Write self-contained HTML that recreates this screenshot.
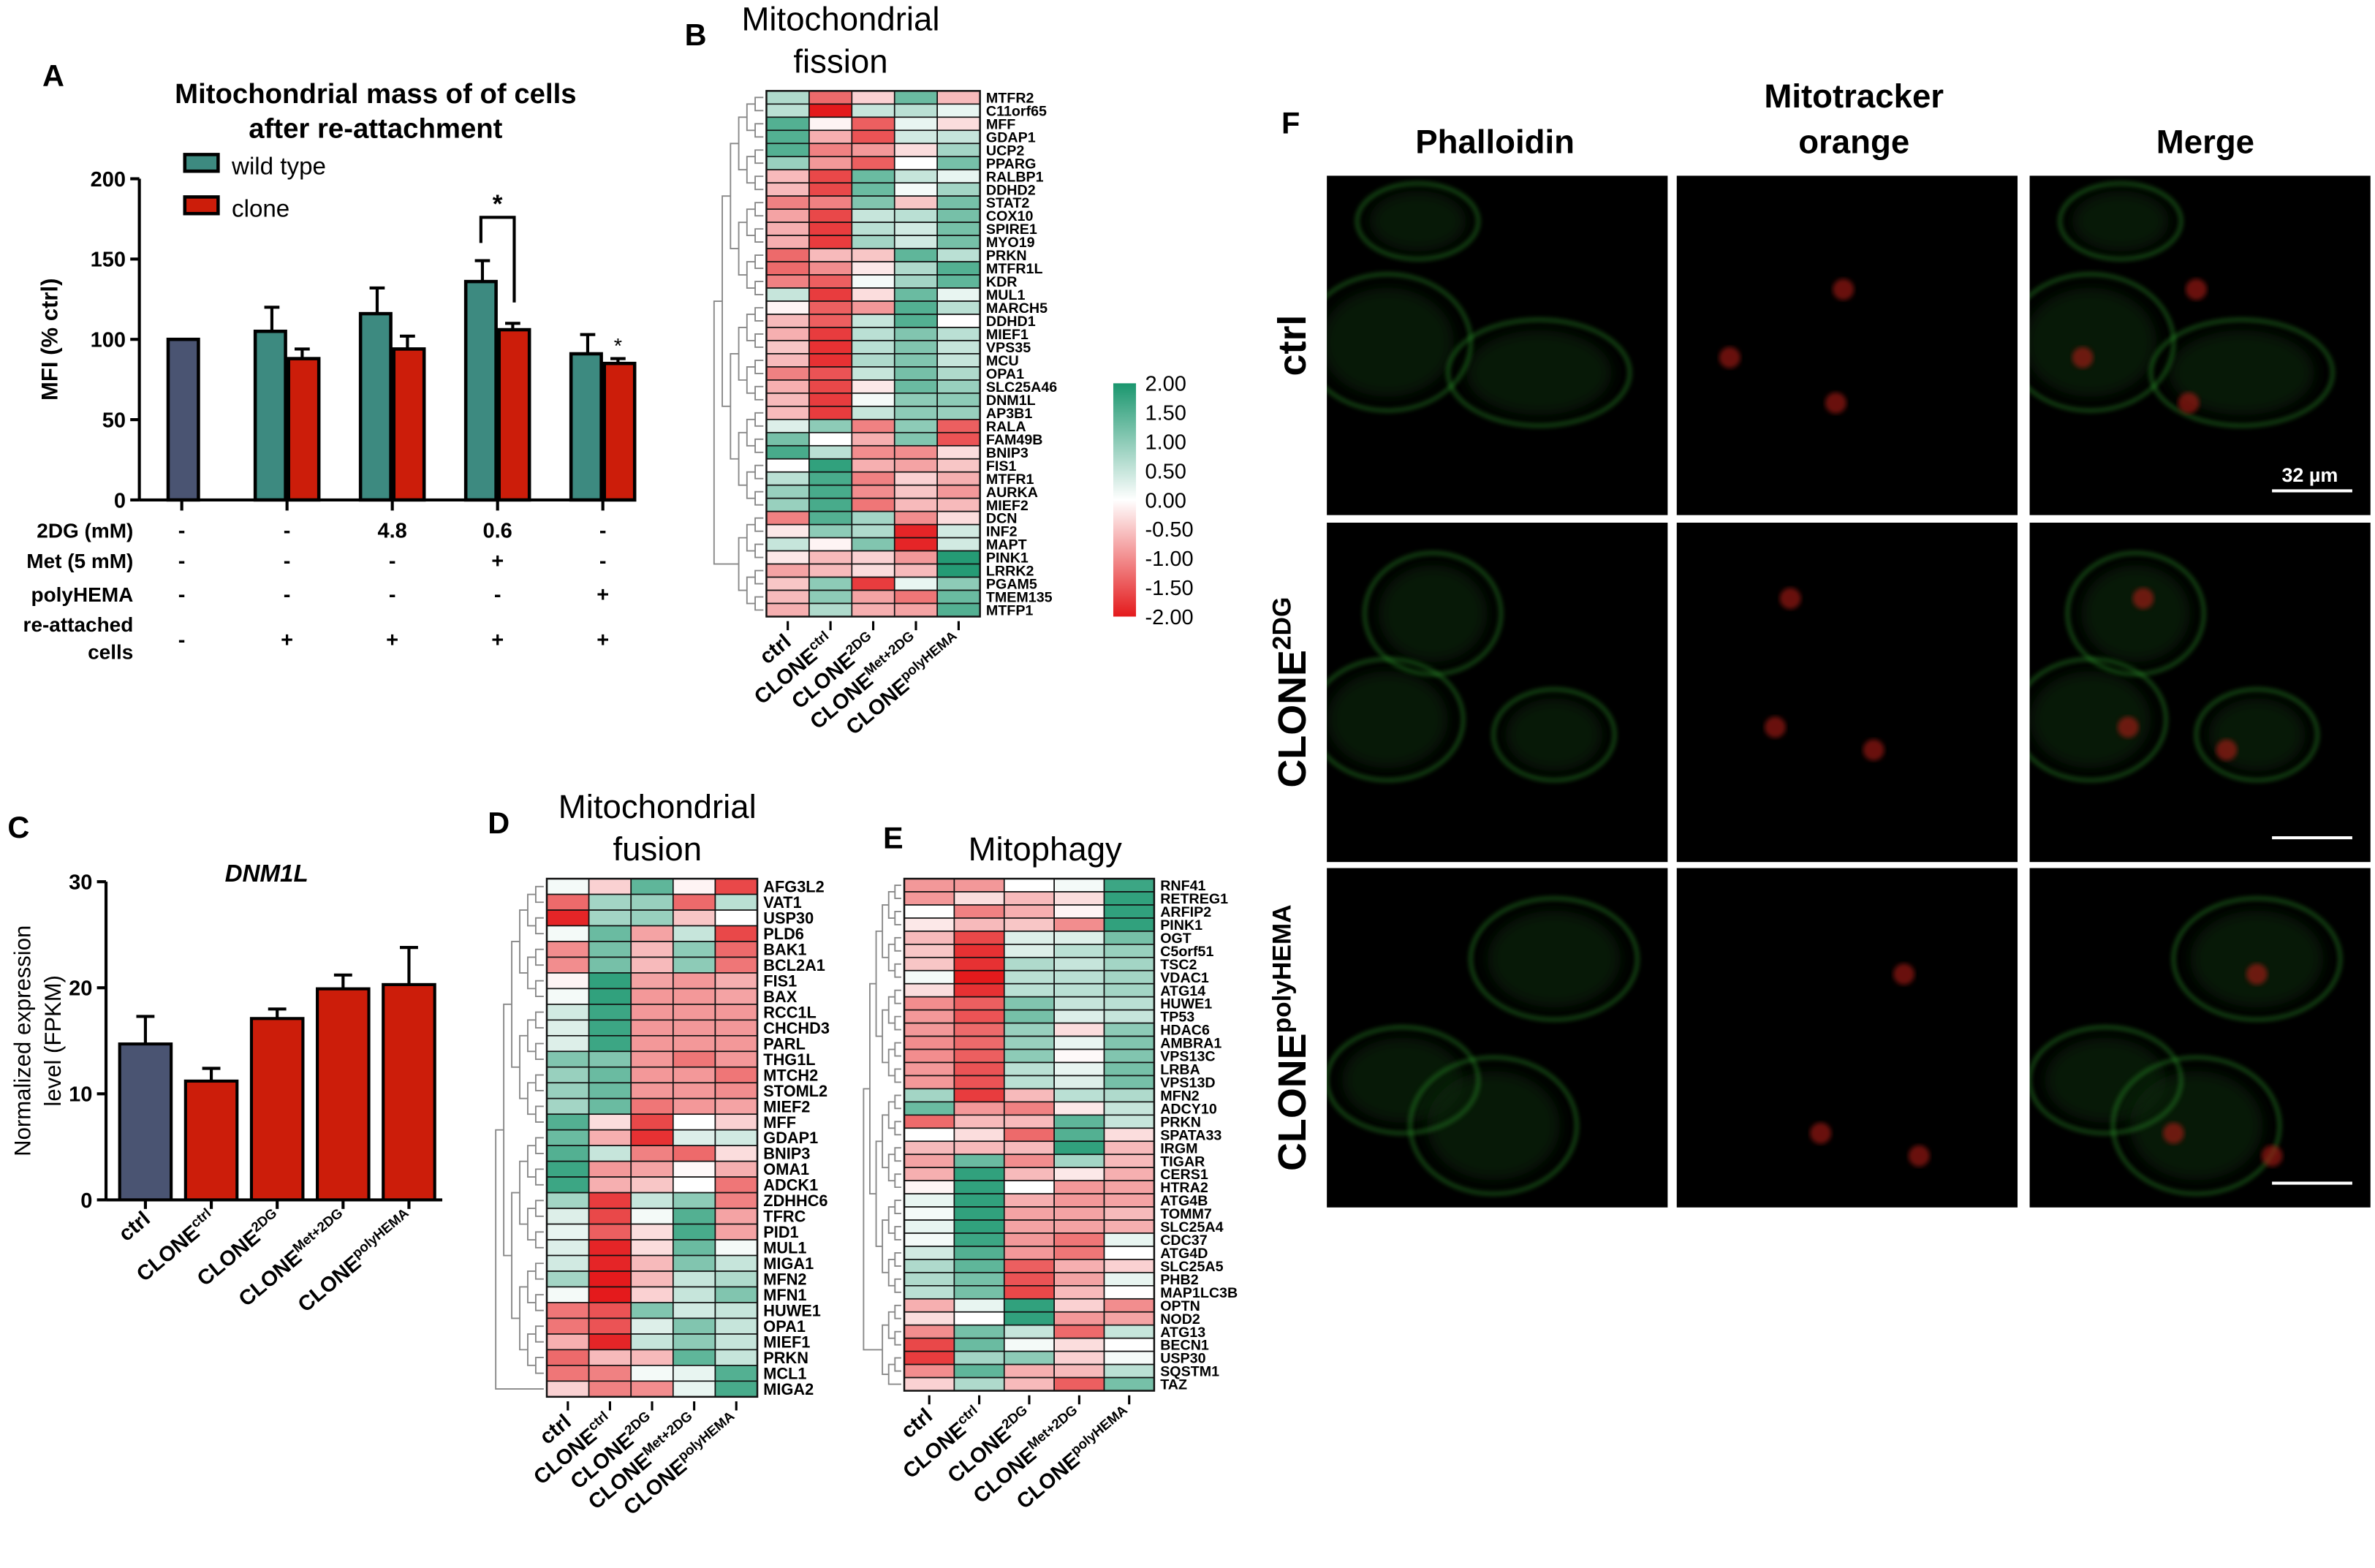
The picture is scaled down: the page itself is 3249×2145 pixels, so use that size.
<!DOCTYPE html>
<html><head><meta charset="utf-8"><style>
html,body{margin:0;padding:0;background:#fff;}
svg{display:block;font-family:"Liberation Sans",Arial,sans-serif;}
</style></head><body>
<svg id="fig" width="3249" height="2145" viewBox="0 0 1568 1035" preserveAspectRatio="none" xmlns="http://www.w3.org/2000/svg">
<rect width="1568" height="1035" fill="#fff"/>
<g id="A"></g>
<g id="B"></g>
<g id="C"></g>
<g id="D"></g>
<g id="E"></g>
<g id="F"></g>
</svg>
<script>
// ---------- Panel A data ----------
const aGroups = ["ctrl","g2","g3","g4","g5"];
const aCtrl = 100;
const aWild = [105,116,136,91];
const aWildErr = [15,16,13,12];
const aClone = [88,94,106,85];
const aCloneErr = [6,8,4,3];
const aTicks = [0,50,100,150,200];
const aRow2DG = ["-","-","4.8","0.6","-"];
const aRowMet = ["-","-","-","+","-"];
const aRowPoly = ["-","-","-","-","+"];
const aRowRe = ["-","+","+","+","+"];
// ---------- Panel C data ----------
const cCats = ["ctrl","CLONE|ctrl","CLONE|2DG","CLONE|Met+2DG","CLONE|polyHEMA"];
const cVals = [14.7,11.2,17.1,19.9,20.3];
const cErr = [2.6,1.2,0.9,1.3,3.5];
const cTicks = [0,10,20,30];
// ---------- Heatmap data ----------
const hmCols = ["ctrl","CLONE|ctrl","CLONE|2DG","CLONE|Met+2DG","CLONE|polyHEMA"];
const bGenes = ["MTFR2","C11orf65","MFF","GDAP1","UCP2","PPARG","RALBP1","DDHD2","STAT2","COX10","SPIRE1","MYO19","PRKN","MTFR1L","KDR","MUL1","MARCH5","DDHD1","MIEF1","VPS35","MCU","OPA1","SLC25A46","DNM1L","AP3B1","RALA","FAM49B","BNIP3","FIS1","MTFR1","AURKA","MIEF2","DCN","INF2","MAPT","PINK1","LRRK2","PGAM5","TMEM135","MTFP1"];
const bVals = [[0.7,-1.3,-0.4,1.3,-0.6],[0.6,-2,0.5,0.6,0.2],[1.5,-0.1,-1.4,0.2,-0.3],[1.5,-0.7,-1.5,0.4,0.5],[1.5,-1.1,-0.9,-0.3,0.8],[0.9,-0.9,-1.4,0,1.2],[-0.6,-1.6,1.3,0.5,0.2],[-0.6,-1.6,1.3,0.1,0.8],[-1.1,-1.1,1.1,-0.5,1.2],[-0.8,-1.6,0.5,0.6,1.2],[-0.7,-1.7,0.6,0.4,1.2],[-0.7,-1.7,0.8,0.4,1.2],[-1.3,-0.6,-0.5,1.4,0.6],[-1.3,-1.0,-0.2,0.7,1.5],[-1.1,-1.4,0.1,0.8,1.4],[0.5,-1.7,-0.3,1.3,0.2],[-0.1,-1.4,-0.9,1.5,0.6],[-0.6,-1.4,0.5,1.5,0],[-0.7,-1.7,0.6,1.1,0.6],[-0.5,-1.8,0.6,1.1,0.5],[-0.6,-1.8,0.7,1.1,0.5],[-1.1,-1.5,0.5,1.2,0.7],[-0.7,-1.6,-0.2,1.3,0.9],[-0.6,-1.7,0.1,1.0,1.0],[-0.6,-1.7,0.5,1.0,0.9],[0.3,1.0,-1.1,1.0,-1.4],[1.2,0,-0.7,1.1,-1.5],[1.6,0.6,-1.0,-1.0,-0.3],[0,1.8,-0.7,-0.8,-0.5],[0.6,1.6,-1.1,-0.4,-0.7],[0.9,1.6,-1.0,-0.5,-0.9],[0.9,1.6,-1.2,-0.6,-0.6],[-1.1,1.5,0.8,-1.0,-0.3],[-0.2,1.0,0.7,-1.9,0.4],[0.5,-0.1,1.1,-1.9,0.4],[-0.2,-0.6,-0.4,-0.9,1.9],[-0.8,-0.6,-0.3,-0.6,1.9],[-0.5,1.0,-1.7,0.2,1.0],[-0.6,1.0,-0.8,-1.2,1.3],[-0.7,0.7,-0.7,-0.8,1.5]];
const dGenes = ["AFG3L2","VAT1","USP30","PLD6","BAK1","BCL2A1","FIS1","BAX","RCC1L","CHCHD3","PARL","THG1L","MTCH2","STOML2","MIEF2","MFF","GDAP1","BNIP3","OMA1","ADCK1","ZDHHC6","TFRC","PID1","MUL1","MIGA1","MFN2","MFN1","HUWE1","OPA1","MIEF1","PRKN","MCL1","MIGA2"];
const dVals = [[0.1,-0.4,1.4,-0.1,-1.6],[-1.3,0.8,0.9,-1.3,0.6],[-1.9,0.8,0.9,-0.5,0],[0.1,1.3,-0.8,0.5,-1.6],[-1.0,1.2,-0.6,1.0,-1.3],[-1.0,1.2,-0.6,1.0,-1.2],[-0.1,1.8,-0.8,-0.9,-0.7],[0.1,1.8,-0.9,-0.9,-0.8],[0.4,1.7,-0.9,-0.9,-0.9],[0.3,1.7,-0.9,-0.9,-0.9],[0.3,1.7,-0.9,-0.9,-0.9],[1.1,1.1,-0.9,-1.2,-0.9],[0.9,1.3,-0.9,-0.9,-1.2],[0.9,1.3,-0.9,-0.9,-1.0],[0.8,1.3,-1.2,-0.9,-0.8],[1.5,-0.3,-1.6,0,-0.4],[1.3,-0.7,-1.8,0.3,0.4],[1.5,0.5,-1.1,-1.3,-0.3],[1.7,-0.9,-0.8,-0.05,-0.7],[1.7,-0.7,-0.5,0,-1.2],[0.8,-1.7,0.5,1.0,-1.1],[0.3,-1.6,0.1,1.5,-0.8],[0.2,-1.4,-0.3,1.6,-0.8],[0.3,-1.9,-0.3,1.3,0.1],[0.4,-1.9,-0.6,1.1,0.5],[0.8,-2,-0.6,0.5,0.7],[0.1,-2,-0.4,0.5,1.1],[-1.2,-1.5,1.1,0.4,0.5],[-1.2,-1.5,0.3,1.1,0.5],[-0.7,-1.9,0.5,1.0,0.5],[-1.3,-0.6,-0.6,1.4,0.5],[-1.2,-1.1,0.1,0.2,1.5],[-0.4,-1.1,-1.0,0.2,1.6]];
const eGenes = ["RNF41","RETREG1","ARFIP2","PINK1","OGT","C5orf51","TSC2","VDAC1","ATG14","HUWE1","TP53","HDAC6","AMBRA1","VPS13C","LRBA","VPS13D","MFN2","ADCY10","PRKN","SPATA33","IRGM","TIGAR","CERS1","HTRA2","ATG4B","TOMM7","SLC25A4","CDC37","ATG4D","SLC25A5","PHB2","MAP1LC3B","OPTN","NOD2","ATG13","BECN1","USP30","SQSTM1","TAZ"];
const eVals = [[-0.9,-0.9,0,0.1,1.7],[-0.9,-0.3,-0.6,-0.3,1.8],[0,-1.1,-0.7,-0.1,1.8],[-0.2,-0.6,-0.5,-1.0,1.8],[-0.6,-1.6,0.3,0.3,1.2],[-0.5,-1.8,0.3,0.6,0.9],[-0.5,-1.8,0.7,0.5,0.8],[0.1,-2,0.6,0.6,0.8],[-0.3,-1.8,0.6,0.6,0.8],[-1.0,-1.4,1.1,0.5,0.6],[-0.9,-1.5,1.2,0.3,0.5],[-0.9,-1.3,0.9,-0.3,1.0],[-1.0,-1.3,0.9,0.2,1.1],[-1.0,-1.4,1.0,-0.05,1.1],[-0.9,-1.5,0.6,0.2,1.2],[-0.9,-1.5,0.6,0.3,1.2],[0.8,-1.7,-0.6,0.6,0.7],[1.3,-0.9,-1.1,-0.2,0.5],[-1.3,-0.6,-0.6,1.4,0.5],[0,-0.3,-1.3,1.5,-0.3],[-0.6,-0.6,-0.6,1.8,-0.6],[-0.8,1.3,-1.0,0.8,-0.6],[-0.7,1.8,-0.6,-0.2,-0.7],[-0.1,1.8,0,-0.9,-0.8],[0.2,1.8,-0.7,-0.9,-0.8],[0.1,1.8,-0.8,-0.8,-0.6],[0.2,1.8,-0.8,-0.8,-0.7],[0.1,1.7,-0.9,-1.2,0.2],[0.4,1.5,-0.9,-1.2,0],[0.7,1.4,-1.4,-0.7,-0.4],[0.7,1.2,-1.5,-0.8,0.2],[0.6,1.2,-1.6,-0.6,0],[-0.7,0.2,1.8,-0.4,-1.0],[-0.3,0,1.8,-0.9,-0.8],[-1.0,1.2,0.5,-1.3,0.5],[-1.6,1.3,0.1,-0.3,0],[-1.7,0.8,1.0,-0.4,0.1],[-1.0,1.4,-0.7,-0.6,0.6],[-0.4,0.7,-0.6,-1.4,1.2]];
const cbTicks = [2,1.5,1,0.5,0,-0.5,-1,-1.5,-2];

const NS="http://www.w3.org/2000/svg";
function mk(tag,attrs,parent,text){const e=document.createElementNS(NS,tag);for(const k in attrs)e.setAttribute(k,attrs[k]);if(text!==undefined)e.textContent=text;parent.appendChild(e);return e;}
function txt(parent,x,y,s,size,opts){opts=opts||{};const e=mk('text',{x:x,y:y,'font-size':size,'text-anchor':opts.anchor||'start','font-weight':opts.bold===false?'normal':'bold',fill:opts.fill||'#000'},parent,s);if(opts.rot!==undefined)e.setAttribute('transform','rotate('+opts.rot+' '+x+' '+y+')');return e;}
function color(v){v=Math.max(-2,Math.min(2,v));const w=[255,255,255];let c;if(v>=0){const g=[26,150,110];const t=v/2;c=w.map((a,i)=>Math.round(a+(g[i]-a)*t));}else{const r=[228,26,28];const t=-v/2;c=w.map((a,i)=>Math.round(a+(r[i]-a)*t));}return 'rgb('+c.join(',')+')';}
function catLabel(parent,x,y,lab,size){
  const parts=lab.split('|');const t=mk('text',{x:x,y:y,'font-size':size,'font-weight':'bold','text-anchor':'end',transform:'rotate(-40 '+x+' '+y+')'},parent);
  mk('tspan',{},t,parts[0]);
  if(parts[1]){mk('tspan',{'font-size':size*0.65,dy:-size*0.4},t,parts[1]);}
  
}

// ---------- Panel A ----------
(function(){
const g=document.getElementById('A');
const x0=92,y0=330,yTop=118;const ys=v=>y0-(v/200)*(y0-yTop);
txt(g,28,57,'A',20);
txt(g,248,68,'Mitochondrial mass of of cells',18.5,{anchor:'middle'});
txt(g,248,91,'after re-attachment',18.5,{anchor:'middle'});
mk('rect',{x:122,y:102,width:22,height:11,fill:'#3d8a80',stroke:'#000','stroke-width':2.2},g);
txt(g,153,115,'wild type',16,{bold:false});
mk('rect',{x:122,y:130,width:22,height:11,fill:'#cc1d0a',stroke:'#000','stroke-width':2.2},g);
txt(g,153,143,'clone',16,{bold:false});
mk('line',{x1:x0,y1:yTop,x2:x0,y2:y0,stroke:'#000','stroke-width':2},g);
mk('line',{x1:x0,y1:y0,x2:410,y2:y0,stroke:'#000','stroke-width':2},g);
aTicks.forEach(t=>{mk('line',{x1:x0-6,y1:ys(t),x2:x0,y2:ys(t),stroke:'#000','stroke-width':2},g);const l=txt(g,x0-9,ys(t)+5,String(t),14,{anchor:'end'});});
const yt=txt(g,38,224,'MFI (% ctrl)',15,{anchor:'middle',rot:-90});
const centers=aGroups.map((c,i)=>120+i*69.5);
const bw=20;
centers.forEach(cx=>mk('line',{x1:cx,y1:y0,x2:cx,y2:y0+7,stroke:'#000','stroke-width':2},g));
let b=mk('rect',{x:centers[0]-9,y:ys(aCtrl),width:20,height:y0-ys(aCtrl),fill:'#4a5472',stroke:'#000','stroke-width':2.2},g);

aWild.forEach((v,i)=>{const cx=centers[i+1];
  mk('line',{x1:cx-bw/2,y1:ys(v),x2:cx-bw/2,y2:ys(v+aWildErr[i]),stroke:'#000','stroke-width':2},g);
  mk('line',{x1:cx-bw/2-5,y1:ys(v+aWildErr[i]),x2:cx-bw/2+5,y2:ys(v+aWildErr[i]),stroke:'#000','stroke-width':2},g);
  const r=mk('rect',{x:cx-bw-1,y:ys(v),width:bw,height:y0-ys(v),fill:'#3d8a80',stroke:'#000','stroke-width':2.2},g);
  
  const c=aClone[i];
  mk('line',{x1:cx+bw/2,y1:ys(c),x2:cx+bw/2,y2:ys(c+aCloneErr[i]),stroke:'#000','stroke-width':2},g);
  mk('line',{x1:cx+bw/2-5,y1:ys(c+aCloneErr[i]),x2:cx+bw/2+5,y2:ys(c+aCloneErr[i]),stroke:'#000','stroke-width':2},g);
  const r2=mk('rect',{x:cx+1,y:ys(c),width:bw,height:y0-ys(c),fill:'#cc1d0a',stroke:'#000','stroke-width':2.2},g);
  
});
const c4=centers[3];
mk('path',{d:'M'+(c4-11)+' '+ys(160)+' V'+ys(176)+' H'+(c4+11)+' V'+ys(123),fill:'none',stroke:'#000','stroke-width':2},g);
txt(g,c4,ys(176)-3,'*',17,{anchor:'middle'});
txt(g,centers[4]+10,233,'*',14,{anchor:'middle',bold:false});
const rows=[['2DG (mM)',aRow2DG,355],['Met (5 mM)',aRowMet,375],['polyHEMA',aRowPoly,397]];
rows.forEach(r=>{txt(g,88,r[2],r[0],13.5,{anchor:'end'});r[1].forEach((s,i)=>txt(g,centers[i],r[2],s,14,{anchor:'middle'}));});
txt(g,88,417,'re-attached',13.5,{anchor:'end'});txt(g,88,435,'cells',13.5,{anchor:'end'});
aRowRe.forEach((s,i)=>txt(g,centers[i],427,s,14,{anchor:'middle'}));
})();

// ---------- Panel C ----------
(function(){
const g=document.getElementById('C');
const x0=70,y0=792,yTop=582;const ys=v=>y0-(v/30)*(y0-yTop);
txt(g,5,553,'C',20);
mk('text',{x:176,y:582,'font-size':16,'font-weight':'bold','font-style':'italic','text-anchor':'middle'},g,'DNM1L');
mk('line',{x1:x0,y1:yTop,x2:x0,y2:y0,stroke:'#000','stroke-width':2},g);
mk('line',{x1:x0,y1:y0,x2:292,y2:y0,stroke:'#000','stroke-width':2},g);
cTicks.forEach(t=>{mk('line',{x1:x0-6,y1:ys(t),x2:x0,y2:ys(t),stroke:'#000','stroke-width':2},g);txt(g,x0-9,ys(t)+5,String(t),14,{anchor:'end'});});
txt(g,20,687,'Normalized expression',15,{anchor:'middle',rot:-90,bold:false});
txt(g,40,687,'level (FPKM)',15,{anchor:'middle',rot:-90,bold:false});
cVals.forEach((v,i)=>{const cx=96+i*43.5;
  mk('line',{x1:cx,y1:ys(v),x2:cx,y2:ys(v+cErr[i]),stroke:'#000','stroke-width':2},g);
  mk('line',{x1:cx-6,y1:ys(v+cErr[i]),x2:cx+6,y2:ys(v+cErr[i]),stroke:'#000','stroke-width':2},g);
  const r=mk('rect',{x:cx-17,y:ys(v),width:34,height:y0-ys(v),fill:i==0?'#4a5472':'#cc1d0a',stroke:'#000','stroke-width':2},g);
  
  mk('line',{x1:cx,y1:y0,x2:cx,y2:y0+6,stroke:'#000','stroke-width':2},g);
  catLabel(g,cx+4,y0+14,cCats[i],14);
});
})();

// ---------- Heatmaps ----------
function heatmap(gid,genes,vals,x,y,w,h,labSize,dendX){
  const g=document.getElementById(gid);
  const n=genes.length, cw=w/5, ch=h/n;
  vals.forEach((row,r)=>row.forEach((v,c)=>{const e=mk('rect',{x:x+c*cw,y:y+r*ch,width:cw,height:ch,fill:color(v),stroke:'#111','stroke-width':0.8},g);
    }));
  mk('rect',{x:x,y:y,width:w,height:h,fill:'none',stroke:'#111','stroke-width':1.2},g);
  genes.forEach((s,r)=>{const t=txt(g,x+w+4,y+(r+0.5)*ch+labSize*0.36,s,labSize);});
  let nodes=genes.map((s,r)=>({y:y+(r+0.5)*ch,d:0}));
  const span=x-dendX-2;let lvl=0;
  while(nodes.length>1&&lvl<7){lvl++;const nx=[];for(let i=0;i<nodes.length;i+=2){if(i+1<nodes.length){const a=nodes[i],b=nodes[i+1];const xl=x-2-span*lvl/7;
      mk('path',{d:'M'+(x-2-span*a.d/7)+' '+a.y+' H'+xl+' V'+b.y+' H'+(x-2-span*b.d/7),fill:'none',stroke:'#888','stroke-width':0.9},g);
      nx.push({y:(a.y+b.y)/2,d:lvl});}else nx.push(nodes[i]);}nodes=nx;}
  hmCols.forEach((c,i)=>{const cx=x+(i+0.5)*cw;mk('line',{x1:cx,y1:y+h+3,x2:cx,y2:y+h+9,stroke:'#000','stroke-width':1.5},g);catLabel(g,cx+3,y+h+18,c,14);});
}
heatmap('B',bGenes,bVals,506,60,141,347,9.5,466);
heatmap('D',dGenes,dVals,361,580,139,342,10.5,322);
heatmap('E',eGenes,eVals,597,580,165,338,9.5,566);
(function(){
const g=document.getElementById('B');
txt(g,452,30,'B',20);
txt(g,555,20,'Mitochondrial',22,{anchor:'middle',bold:false});
txt(g,555,48,'fission',22,{anchor:'middle',bold:false});
const d=document.getElementById('D');
txt(d,322,550,'D',20);
txt(d,434,540,'Mitochondrial',22,{anchor:'middle',bold:false});
txt(d,434,568,'fusion',22,{anchor:'middle',bold:false});
const e=document.getElementById('E');
txt(e,583,560,'E',20);
txt(e,690,568,'Mitophagy',22,{anchor:'middle',bold:false});
const defs=mk('defs',{},g);const lg=mk('linearGradient',{id:'cb',x1:0,y1:0,x2:0,y2:1},defs);
[2,1,0,-1,-2].forEach((v,i)=>mk('stop',{offset:(i*25)+'%','stop-color':color(v)},lg));
const cb=mk('rect',{x:735,y:253,width:15,height:154,fill:'url(#cb)'},g);
cbTicks.forEach(t=>{const yy=253+(2-t)/4*154;txt(g,756,yy+5,t.toFixed(2),14,{bold:false});});
})();

// ---------- Panel F ----------
(function(){
const g=document.getElementById('F');
txt(g,846,88,'F',20);
txt(g,987,101,'Phalloidin',22,{anchor:'middle'});
txt(g,1224,71,'Mitotracker',22,{anchor:'middle'});
txt(g,1224,101,'orange',22,{anchor:'middle'});
txt(g,1456,101,'Merge',22,{anchor:'middle'});
const colsX=[876,1107,1340], rowsY=[116,345,573], W=225, H=224;
const defs=mk('defs',{},g);const f=mk('filter',{id:'bl'},defs);mk('feGaussianBlur',{stdDeviation:5},f);
const f2=mk('filter',{id:'bl2'},defs);mk('feGaussianBlur',{stdDeviation:1.5},f2);
const cells=[ [[60,30,40,25],[40,110,55,45],[140,130,60,35]], [[70,60,45,40],[40,130,50,40],[150,140,40,30]], [[150,60,55,40],[50,140,50,35],[110,170,55,45]] ];
const reds=[ [[110,75],[35,120],[105,150]], [[75,50],[65,135],[130,150]], [[150,70],[95,175],[160,190]] ];
rowsY.forEach((ry,r)=>colsX.forEach((cx,c)=>{
  const im=mk('rect',{x:cx,y:ry,width:W,height:H,fill:'#000'},g);
  
  const cp=mk('clipPath',{id:'cp'+r+c},defs);mk('rect',{x:cx,y:ry,width:W,height:H},cp);
  const gg=mk('g',{'clip-path':'url(#cp'+r+c+')'},g);
  if(c!==1) cells[r].forEach(s=>mk('ellipse',{cx:cx+s[0],cy:ry+s[1],rx:s[2]*0.8,ry:s[3]*0.8,fill:'#0c2a0a',opacity:0.6,filter:'url(#bl)'},gg));
  if(c!==1) cells[r].forEach(s=>mk('ellipse',{cx:cx+s[0],cy:ry+s[1],rx:s[2],ry:s[3],fill:'none',stroke:'#2f9a2a','stroke-width':2,opacity:0.6,filter:'url(#bl2)'},gg));
  if(c!==0) reds[r].forEach(p=>mk('circle',{cx:cx+p[0],cy:ry+p[1],r:7,fill:'#b01c16',opacity:0.6,filter:'url(#bl2)'},gg));
  if(c===2) mk('line',{x1:cx+160,y1:ry+H-16,x2:cx+213,y2:ry+H-16,stroke:'#fff','stroke-width':2},g);
}));
txt(g,1525,318,'32 µm',13,{anchor:'middle',fill:'#fff'});
txt(g,862,228,'ctrl',26,{anchor:'middle',rot:-90});
const t2=mk('text',{x:862,y:457,'font-size':26,'font-weight':'bold','text-anchor':'middle',transform:'rotate(-90 862 457)'},g);
mk('tspan',{},t2,'CLONE');mk('tspan',{'font-size':17,dy:-10},t2,'2DG');
const t3=mk('text',{x:862,y:685,'font-size':26,'font-weight':'bold','text-anchor':'middle',transform:'rotate(-90 862 685)'},g);
mk('tspan',{},t3,'CLONE');mk('tspan',{'font-size':17,dy:-10},t3,'polyHEMA');
})();
</script>
</body></html>
